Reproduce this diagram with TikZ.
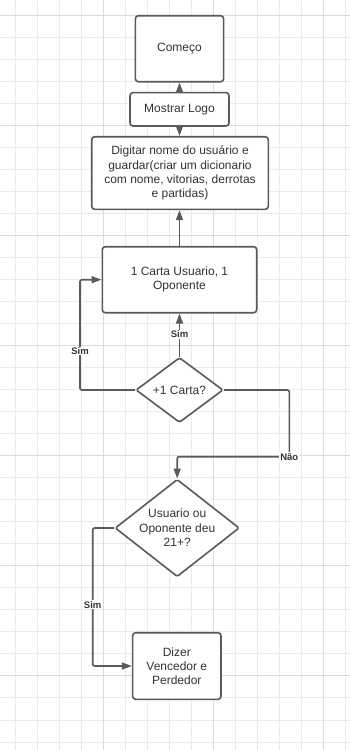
\documentclass[tikz,border=0pt]{standalone}
\usepackage{fontspec}
\setmainfont{Liberation Sans}
\usetikzlibrary{shapes.geometric,arrows.meta}
\definecolor{gridminor}{HTML}{EBEBEB}
\definecolor{gridmajor}{HTML}{DCDCDC}
\definecolor{ink}{HTML}{5A5A5A}
\definecolor{txt}{HTML}{333333}

\begin{document}
\begin{tikzpicture}[x=1pt,y=-1pt,
  box/.style={draw=ink, line width=1.6pt, rounded corners=3pt, fill=white,
    text=txt, align=center, font=\fontsize{12}{14.2}\selectfont, inner sep=0pt},
  decision/.style={draw=ink, line width=1.6pt, diamond, fill=white,
    inner sep=0pt, rounded corners=1.5pt},
  decisiontext/.style={text=txt, align=center, font=\fontsize{12}{14.6}\selectfont, inner sep=0pt},
  flow/.style={draw=ink, line width=1.6pt, rounded corners=2pt,
    -{Triangle[length=10pt,width=7pt]}},
  tag/.style={fill=white, text=txt, font=\fontsize{9.5}{11}\selectfont\bfseries, inner sep=1pt}
]
\useasboundingbox (0,0) rectangle (350,750);
\fill[white] (0,0) rectangle (350,750);

% background grid: minor lines every 22.03, heavier line every fifth
\foreach \k in {0,...,15} {
  \draw[gridminor, line width=0.9pt] ({15.2+22.03*\k},0) -- ({15.2+22.03*\k},750);
}
\foreach \k in {0,...,33} {
  \draw[gridminor, line width=0.9pt] (0,{15+22.03*\k}) -- (350,{15+22.03*\k});
}
\foreach \k in {0,1,2} {
  \draw[gridmajor, line width=1pt] ({103.3+110.15*\k},0) -- ({103.3+110.15*\k},750);
}
\foreach \k in {0,...,6} {
  \draw[gridmajor, line width=1pt] (0,{15+110.15*\k}) -- (350,{15+110.15*\k});
}

% process steps
\node[box, minimum width=88.3pt, minimum height=66pt] (comeco) at (179.5,48.7) {Começo};
\node[box, minimum width=99pt, minimum height=33.3pt] (logo) at (179.5,109.3) {Mostrar Logo};
\node[box, minimum width=176.6pt, minimum height=72.6pt] (digitar) at (180,173)
  {Digitar nome do usuário e\\guardar(criar um dicionario\\com nome, vitorias, derrotas\\e partidas)};
\node[box, minimum width=154.4pt, minimum height=66pt] (carta) at (179.5,279.7)
  {1 Carta Usuario, 1\\Oponente};
\node[box, minimum width=88.3pt, minimum height=66.6pt] (dizer) at (176.8,666)
  {Dizer\\Vencedor e\\Perdedor};

% decisions
\node[decision, minimum width=87.3pt, minimum height=65pt] (q1) at (179.5,390) {};
\node[decisiontext] (q1t) at (q1) {+1 Carta?};
\node[decision, minimum width=124.3pt, minimum height=97.4pt] (q2) at (177.2,528) {};
\node[decisiontext] (q2t) at (q2) {Usuario ou\\Oponente deu\\21+?};

% bend points
\coordinate (loopL) at (80,351);
\coordinate (nao) at (289.3,456.7);
\coordinate (simL) at (92.7,604.7);

% connectors
\draw[flow] (logo.north) -- (logo.north |- comeco.south);
\draw[flow] (logo.south) -- (logo.south |- digitar.north);
\draw[flow] (carta.north) -- (carta.north |- digitar.south);
\draw[flow] (q1.north) -- (carta.south);
\draw[flow] (q1.west) -| (loopL) |- (carta.west);
\draw[flow] (q1.east) -| (nao) -| (q2.north);
\draw[flow] (q2.west) -| (simL) |- (dizer.west);

% connector labels
\node[tag] (sim1) at (179.5,334.3) {Sim};
\node[tag] (sim2) at (loopL) {Sim};
\node[tag] (naolbl) at (nao) {Não};
\node[tag] (sim3) at (simL) {Sim};
\end{tikzpicture}
\end{document}
